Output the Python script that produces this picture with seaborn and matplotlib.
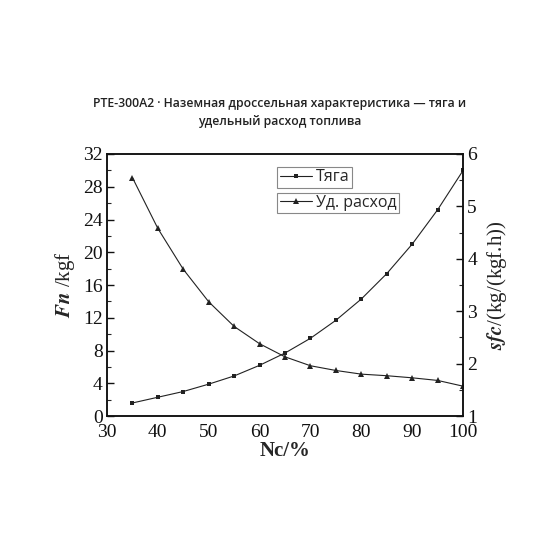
import pandas as pd
import matplotlib
matplotlib.use("Agg")
import matplotlib.pyplot as plt
from matplotlib.ticker import MultipleLocator
import seaborn as sns

# === DADOS ===
nc = [35, 40, 45, 50, 55, 60, 65, 70, 75, 80, 85, 90, 95, 100]
tyaga = [1.6, 2.3, 3.0, 3.9, 4.9, 6.2, 7.7, 9.5, 11.7, 14.3, 17.4, 21.0, 25.2, 30.0]
ud_rashod = [5.55, 4.58, 3.80, 3.18, 2.71, 2.38, 2.13, 1.96, 1.87, 1.80, 1.77, 1.73, 1.68, 1.57]

titulo = "PTE-300A2 · Наземная дроссельная характеристика — тяга и\nудельный расход топлива"

df = pd.DataFrame({"nc": nc, "tyaga": tyaga, "sfc": ud_rashod})

sns.set_style("white")
plt.rcParams["font.family"] = ["Liberation Serif", "DejaVu Serif"]
plt.rcParams["mathtext.fontset"] = "stix"

fig = plt.figure(figsize=(5.6, 5.6), dpi=100)
ax = fig.add_axes([0.191, 0.257, 0.636, 0.468])
ax2 = ax.twinx()

cor = "#222222"
sns.lineplot(data=df, x="nc", y="tyaga", ax=ax, color=cor, linewidth=0.8,
             marker="s", markersize=3.5, markeredgewidth=0, label="Тяга", legend=False)
sns.lineplot(data=df, x="nc", y="sfc", ax=ax2, color=cor, linewidth=0.8,
             marker="^", markersize=4.5, markeredgewidth=0, label="Уд. расход", legend=False)

ax.set_xlim(30, 100)
ax.set_ylim(0, 32)
ax2.set_ylim(1, 6)
ax.xaxis.set_major_locator(MultipleLocator(10))
ax.xaxis.set_minor_locator(MultipleLocator(5))
ax.yaxis.set_major_locator(MultipleLocator(4))
ax.yaxis.set_minor_locator(MultipleLocator(2))
ax2.yaxis.set_major_locator(MultipleLocator(1))
ax2.yaxis.set_minor_locator(MultipleLocator(0.5))

for a in (ax, ax2):
    for s in a.spines.values():
        s.set_color("#111111")
        s.set_linewidth(1.1)
ax.tick_params(axis="both", which="major", direction="in", length=5, width=1,
               labelsize=14, colors="#111111", pad=3)
ax.tick_params(axis="x", which="major", pad=6)
ax.tick_params(axis="both", which="minor", direction="in", length=3, width=0.8)
ax.tick_params(axis="y", right=False)
ax.tick_params(axis="x", top=False)
ax2.tick_params(axis="y", which="major", direction="in", length=5, width=1,
                labelsize=14, colors="#111111", pad=3)
ax2.tick_params(axis="y", which="minor", direction="in", length=3, width=0.8)

ax.set_xlabel("Nc/%", fontsize=15, fontweight="bold", labelpad=0)
ax.set_ylabel(r"$\mathbfit{Fn}$ /kgf", fontsize=15, labelpad=4)
ax2.set_ylabel(r"$\mathbfit{sfc}$/(kg/(kgf.h))", fontsize=15, labelpad=6)

leg_font = {"family": "Open Sans", "size": 11.5}
l1 = ax.legend(loc="upper left", bbox_to_anchor=(0.478, 0.95), prop=leg_font,
               fancybox=False, edgecolor="#888888", framealpha=1,
               handlelength=2.0, handletextpad=0.3, borderpad=0.15, borderaxespad=0)
l1.get_frame().set_linewidth(0.8)
l2 = ax2.legend(loc="upper left", bbox_to_anchor=(0.478, 0.853), prop=leg_font,
                fancybox=False, edgecolor="#888888", framealpha=1,
                handlelength=2.0, handletextpad=0.3, borderpad=0.15, borderaxespad=0)
l2.get_frame().set_linewidth(0.8)

fig.text(0.5, 0.8, titulo, ha="center", va="center", fontsize=8.8,
         family="Open Sans", fontweight="semibold", color="#222222", linespacing=1.5)

fig.savefig("out.png", dpi=100, facecolor="white")
plt.close(fig)
